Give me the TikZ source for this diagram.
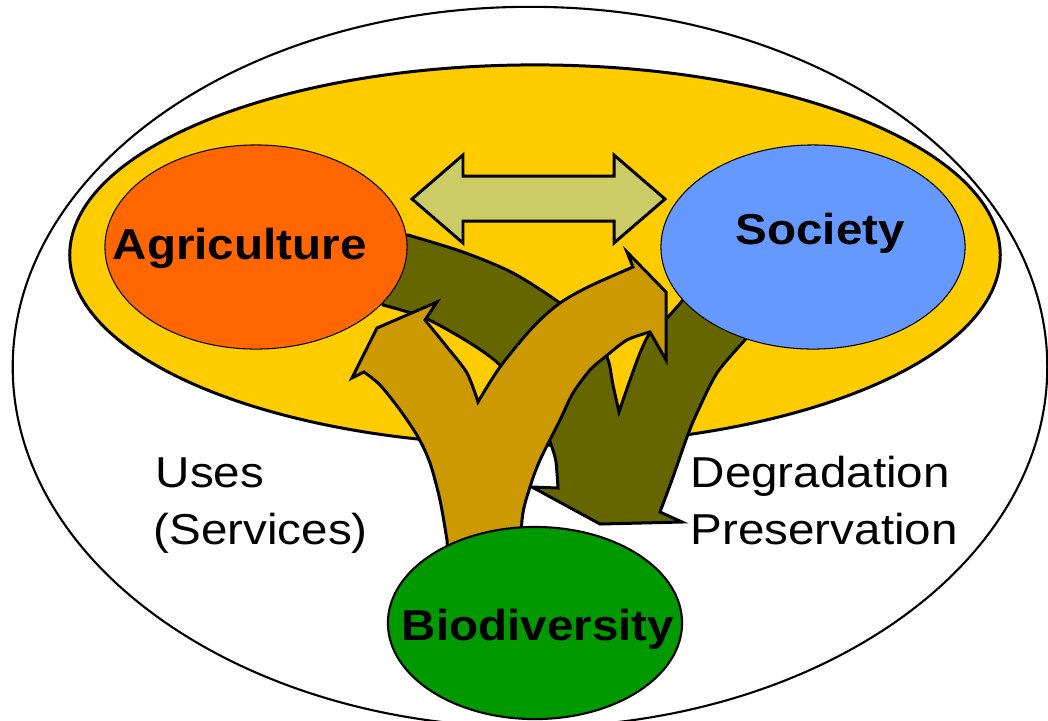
\documentclass[tikz,border=0pt]{standalone}
\usepackage{fontspec}
\setmainfont{Liberation Sans}
\usetikzlibrary{shapes.geometric}

\definecolor{yolk}{HTML}{FFCC00}
\definecolor{agrired}{HTML}{FF6600}
\definecolor{socblue}{HTML}{6699FF}
\definecolor{biogreen}{HTML}{009900}
\definecolor{olive}{HTML}{666600}
\definecolor{ochre}{HTML}{CC9900}
\definecolor{pale}{HTML}{CCCC66}

\newcommand{\wide}[1]{\scalebox{1.1}[1]{#1}}

\begin{document}
\begin{tikzpicture}[x=0.01cm, y=-0.01cm,
  blob/.style={ellipse, draw=black, inner sep=0pt},
  shell/.style={draw=black, line width=0.85pt, line join=miter},
  txt/.style={anchor=base west, inner sep=0pt, font=\fontsize{12.3pt}{15pt}\selectfont},
  bold/.style={txt, font=\fontsize{12.3pt}{15pt}\selectfont\bfseries}]
  \useasboundingbox (0,0) rectangle (1048,720);
  \clip (0,0) rectangle (1048,720);
  % fond
  \node[blob, line width=0.6pt, fill=white, minimum width=10.34cm, minimum height=7.2cm] (world) at (530,367) {};
  \node[blob, line width=0.85pt, fill=yolk, minimum width=9.3cm, minimum height=3.8cm] (field) at (535,255) {};
  % double fleche
  \filldraw[shell, fill=pale] (412,199) -- (463,155) -- (463,176) -- (614,176) -- (614,155)
    -- (665,199) -- (614,243) -- (614,221) -- (463,221) -- (463,243) -- cycle;
  % fleches sombres
  \filldraw[shell, fill=olive] (390,236) -- (408,235)
    -- plot[smooth] coordinates {(408,235) (463,252) (513,273) (560,303) (588,327) (607,357) (613,385) (619,412)}
    -- plot[smooth] coordinates {(619,412) (630,380) (640,353) (650,333) (667,318) (683,300)}
    -- (720,290) -- (750,332)
    -- plot[smooth] coordinates {(745,340) (717,373) (697,413) (687,437) (673,477) (660,512)}
    -- (682,522) -- (600,524) -- (532,487)
    -- plot[smooth] coordinates {(558,488) (557,473) (555,457) (546,432) (527,398) (500,365) (470,343) (425,318) (383,305)}
    -- (380,290) -- cycle;
  % fleches dorees
  \filldraw[shell, fill=ochre] (450,590)
    -- plot[smooth] coordinates {(447,540) (440,500) (430,463) (418,437) (400,410) (380,385) (364,372)}
    -- (352,378) -- (377,328) -- (437,302)
    -- plot[smooth] coordinates {(425,320) (447,347) (467,373) (478,402)}
    -- plot[smooth] coordinates {(478,402) (500,367) (533,327) (560,303) (590,286) (633,267)}
    -- (627,252) -- (666,292) -- (666,360)
    -- plot[smooth] coordinates {(650,332) (627,340) (605,357) (590,370) (573,393) (560,420) (540,460) (530,487) (522,520) (520,590)}
    -- cycle;
  % ellipses
  \node[blob, line width=0.3pt, fill=agrired, minimum width=3.02cm, minimum height=2.04cm] (agri) at (256,247) {};
  \node[blob, line width=0.3pt, fill=socblue, minimum width=3.04cm, minimum height=2.04cm] (soc) at (813,247) {};
  \node[blob, line width=0.6pt, fill=biogreen, minimum width=2.94cm, minimum height=1.92cm] (bio) at (535,623) {};
  % textes
  \node[bold] (agritxt) at (112,259) {\wide{Agriculture}};
  \node[bold] (soctxt) at (735,244) {\wide{Society}};
  \node[bold] (biotxt) at (401,640) {\wide{Biodiversity}};
  \node[txt] (uses) at (155,487) {\wide{Uses}};
  \node[txt] (services) at (153,544) {\wide{(Services)}};
  \node[txt] (degr) at (690,487) {\wide{Degradation}};
  \node[txt] (pres) at (690,544) {\wide{Preservation}};
\end{tikzpicture}
\end{document}
